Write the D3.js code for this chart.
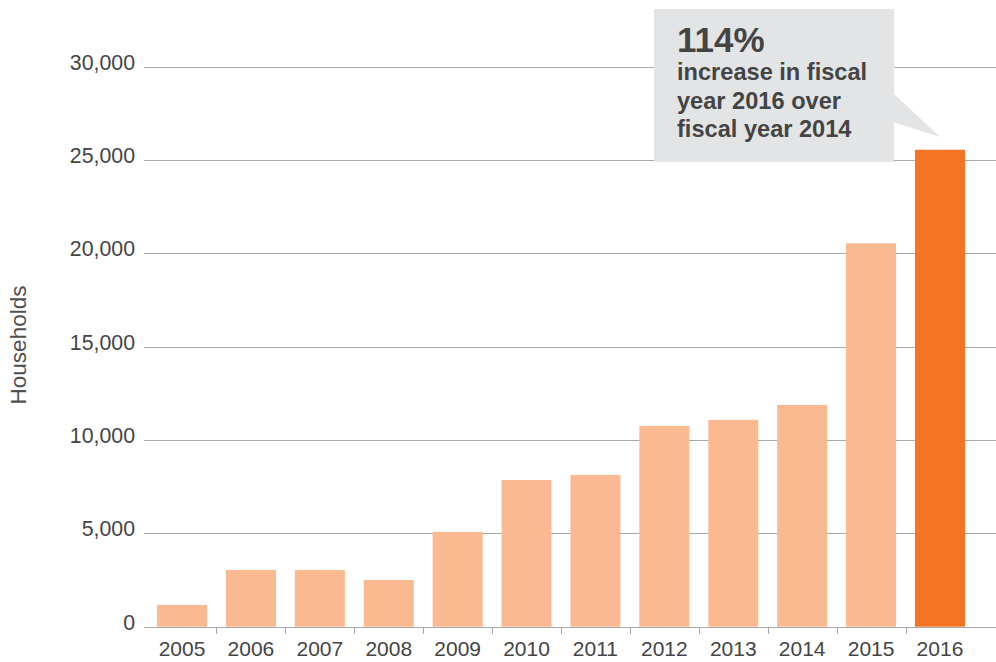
<!DOCTYPE html>
<html>
<head>
<meta charset="utf-8">
<title>Households</title>
<style>
body {
  margin: 0;
  background: #fff;
  font-family: "Liberation Sans", Arial, Helvetica, sans-serif;
}
.grid line {
  stroke: #a9a9a9;
  stroke-width: 1.3;
  shape-rendering: crispEdges;
}
.tick-label {
  font-size: 21.3px;
  fill: #444;
}
.xlab {
  font-size: 21px;
}
.y-title {
  font-size: 22.5px;
  fill: #505050;
}
.callout text {
  fill: #444;
  font-weight: 700;
}
</style>
</head>
<body>
<div id="vis"></div>
<script src="https://d3js.org/d3.v7.min.js"></script>
<script>
// data
var years = ["2005", "2006", "2007", "2008", "2009", "2010", "2011", "2012", "2013", "2014", "2015", "2016"];
var households = [1160, 3040, 3040, 2500, 5075, 7860, 8130, 10760, 11080, 11880, 20540, 25550];
var yTicks = [0, 5000, 10000, 15000, 20000, 25000, 30000];
var highlightYear = "2016";
var calloutLines = ["increase in fiscal", "year 2016 over", "fiscal year 2014"];
var calloutBig = "114%";

var width = 996, height = 662;
var margin = {top: 67, right: 0, bottom: 35, left: 144};

var svg = d3.select("#vis").append("svg")
    .attr("width", width)
    .attr("height", height);

var x = d3.scaleBand()
    .domain(years)
    .range([margin.left, 978])
    .paddingInner(0.274)
    .paddingOuter(0.189);

var y = d3.scaleLinear()
    .domain([0, 30000])
    .range([626.7, 66.7]);

var fmt = d3.format(",");

// gridlines (incl. zero line)
var grid = svg.append("g").attr("class", "grid");
grid.selectAll("line")
    .data(yTicks)
    .enter().append("line")
    .attr("x1", margin.left)
    .attr("x2", width)
    .attr("y1", function(d) { return Math.round(y(d)) + 0.5; })
    .attr("y2", function(d) { return Math.round(y(d)) + 0.5; });

// y labels
svg.selectAll(".ylab")
    .data(yTicks)
    .enter().append("text")
    .attr("class", "tick-label ylab")
    .attr("x", 135)
    .attr("y", function(d) { return y(d) + 3; })
    .attr("text-anchor", "end")
    .text(function(d) { return fmt(d); });

// x ticks between the bars
var step = x.step();
grid.selectAll(".xtick")
    .data(years.slice(1))
    .enter().append("line")
    .attr("class", "xtick")
    .attr("x1", function(d) { return Math.round(x(d) - (step - x.bandwidth()) / 2) + 0.5; })
    .attr("x2", function(d) { return Math.round(x(d) - (step - x.bandwidth()) / 2) + 0.5; })
    .attr("y1", y(0))
    .attr("y2", y(0) + 7);

// bars
svg.selectAll(".bar")
    .data(years)
    .enter().append("rect")
    .attr("class", "bar")
    .attr("x", function(d) { return x(d); })
    .attr("width", x.bandwidth())
    .attr("y", function(d, i) { return y(households[i]); })
    .attr("height", function(d, i) { return y(0) - y(households[i]); })
    .attr("fill", function(d) { return d === highlightYear ? "#f47324" : "#fab991"; });

// year labels
svg.selectAll(".xlab")
    .data(years)
    .enter().append("text")
    .attr("class", "tick-label xlab")
    .attr("x", function(d) { return x(d) + x.bandwidth() / 2; })
    .attr("y", 656)
    .attr("text-anchor", "middle")
    .text(function(d) { return d; });

// axis title
svg.append("text")
    .attr("class", "y-title")
    .attr("transform", "translate(26,345) rotate(-90)")
    .attr("text-anchor", "middle")
    .text("Households");

// callout
var callout = svg.append("g").attr("class", "callout");
callout.append("rect")
    .attr("x", 654)
    .attr("y", 9)
    .attr("width", 240)
    .attr("height", 153)
    .attr("fill", "#e3e4e6");
callout.append("path")
    .attr("d", "M893,93 L940,137 L893,122 Z")
    .attr("fill", "#e3e4e6");
callout.append("text")
    .attr("x", 677)
    .attr("y", 52)
    .style("font-size", "35px")
    .text(calloutBig);
callout.selectAll(".cl")
    .data(calloutLines)
    .enter().append("text")
    .attr("class", "cl")
    .attr("x", 677)
    .attr("y", function(d, i) { return 80 + i * 28.5; })
    .style("font-size", "23.6px")
    .text(function(d) { return d; });
</script>
</body>
</html>
